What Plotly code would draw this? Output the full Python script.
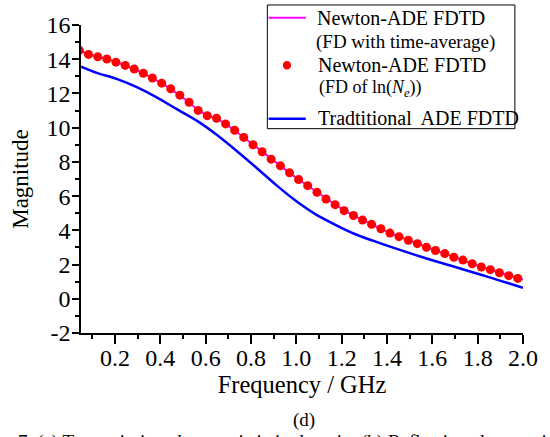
import plotly.graph_objects as go

# ---------------- data ----------------
# Newton-ADE FDTD (FD of ln(Ne)) : red dots
dot_freq = [0.043, 0.083, 0.124, 0.164, 0.204, 0.245, 0.285, 0.325, 0.365, 0.406,
            0.446, 0.486, 0.527, 0.567, 0.607, 0.648, 0.688, 0.728, 0.768, 0.809,
            0.849, 0.889, 0.930, 0.970, 1.010, 1.050, 1.091, 1.131, 1.171, 1.211,
            1.252, 1.292, 1.332, 1.373, 1.413, 1.453, 1.494, 1.534, 1.574, 1.614,
            1.655, 1.695, 1.735, 1.776, 1.816, 1.856, 1.896, 1.937, 1.977]
dot_mag = [14.52, 14.28, 14.14, 14.01, 13.83, 13.64, 13.43, 13.18, 12.90, 12.60,
           12.27, 11.90, 11.48, 11.01, 10.70, 10.55, 10.22, 9.85, 9.43, 9.00,
           8.59, 8.16, 7.77, 7.36, 6.97, 6.61, 6.22, 5.83, 5.50, 5.15,
           4.87, 4.60, 4.35, 4.09, 3.84, 3.63, 3.42, 3.22, 3.01, 2.82,
           2.64, 2.43, 2.26, 2.05, 1.86, 1.70, 1.52, 1.35, 1.19]

# Newton-ADE FDTD (FD with time-average) : magenta line
avg_freq = dot_freq + [2.0]
avg_mag = dot_mag + [1.12]

# Traditional ADE FDTD : blue line
trad_freq = [0.05, 0.12, 0.21, 0.296, 0.382, 0.469, 0.564, 0.650, 0.737, 0.823,
             0.909, 0.996, 1.082, 1.168, 1.255, 1.341, 1.427, 1.514, 1.60, 1.69,
             1.77, 1.86, 1.94, 2.00]
trad_mag = [13.57, 13.20, 12.84, 12.37, 11.79, 11.11, 10.38, 9.57, 8.64, 7.67,
            6.67, 5.74, 4.96, 4.35, 3.80, 3.38, 2.99, 2.61, 2.25, 1.90,
            1.58, 1.22, 0.89, 0.64]

x_tick_vals = [0.2, 0.4, 0.6, 0.8, 1.0, 1.2, 1.4, 1.6, 1.8, 2.0]
x_tick_text = ["0.2", "0.4", "0.6", "0.8", "1.0", "1.2", "1.4", "1.6", "1.8", "2.0"]
y_tick_vals = [-2, 0, 2, 4, 6, 8, 10, 12, 14, 16]
y_tick_text = ["-2", "0", "2", "4", "6", "8", "10", "12", "14", "16"]

legend_lines = [
    ("Newton-ADE FDTD", 20),
    ("(FD with time-average)", 19),
    ("Newton-ADE FDTD", 20),
    ("(FD of ln(<i>N</i><sub><i>e</i></sub>))", 18),
    ("Tradtitional\u00a0 ADE FDTD", 20),
]
caption = "(d)"
caption_below = "7. (a) Transmission characteristic in domain. (b) Reflection characteristic in the domain"

FONT = "Liberation Serif, Times New Roman, serif"
MAGENTA, RED, BLUE = "#FF00FF", "#FF0000", "#0000FF"

# ---------------- layout geometry (pixels) ----------------
W, H = 550, 437
L, R = 81, 533.3          # plot area left / right
T, B = 22.2, 332.7        # plot area top / bottom
pw, ph = R - L, B - T


def px_x(x):
    return (x - L) / pw


def px_y(y):
    return (B - y) / ph


fig = go.Figure()

fig.add_trace(go.Scatter(
    x=avg_freq, y=avg_mag, mode="lines", name="Newton-ADE FDTD (FD with time-average)",
    line=dict(color=MAGENTA, width=2), showlegend=False,
))
fig.add_trace(go.Scatter(
    x=dot_freq, y=dot_mag, mode="markers", name="Newton-ADE FDTD (FD of ln(Ne))",
    marker=dict(color=RED, size=9, line=dict(width=0)), showlegend=False,
))
fig.add_trace(go.Scatter(
    x=trad_freq, y=trad_mag, mode="lines", name="Tradtitional ADE FDTD",
    line=dict(color=BLUE, width=2.5, shape="spline", smoothing=0.8), showlegend=False,
))

axis_common = dict(
    showgrid=False, zeroline=False, showline=True,
    linecolor="black", linewidth=1.5,
    ticks="outside", tickcolor="black", tickwidth=1.5,
    tickfont=dict(family=FONT, size=24, color="black"),
)

# ----- hand-built legend (box, samples, texts) -----
shapes = [
    dict(type="rect", xref="paper", yref="paper",
         x0=px_x(271.7), x1=px_x(525), y0=px_y(126.7), y1=px_y(2),
         line=dict(color="black", width=1), fillcolor="white", layer="above"),
    dict(type="line", xref="paper", yref="paper",
         x0=px_x(273), x1=px_x(311), y0=px_y(15), y1=px_y(15),
         line=dict(color=MAGENTA, width=2), layer="above"),
    dict(type="circle", xref="paper", yref="paper",
         x0=px_x(287.5), x1=px_x(296), y0=px_y(67), y1=px_y(58.5),
         line=dict(width=0), fillcolor=RED, layer="above"),
    dict(type="line", xref="paper", yref="paper",
         x0=px_x(273), x1=px_x(311), y0=px_y(116.7), y1=px_y(116.7),
         line=dict(color=BLUE, width=2.5), layer="above"),
]
legend_pos = [(320, 15.5), (319, 39), (321.5, 62.5), (323, 86), (321.5, 116)]

annotations = []
for (txt, size), (lx, ly) in zip(legend_lines, legend_pos):
    annotations.append(dict(
        text=txt, xref="paper", yref="paper", x=px_x(lx), y=px_y(ly),
        xanchor="left", yanchor="middle", showarrow=False,
        font=dict(family=FONT, size=size, color="black")))

annotations += [
    dict(text=caption, xref="paper", yref="paper",
         x=px_x(309), y=px_y(420), xanchor="center", yanchor="middle",
         showarrow=False, font=dict(family=FONT, size=19, color="black")),
    dict(text=caption_below, xref="paper", yref="paper",
         x=px_x(14), y=px_y(429), xanchor="left", yanchor="top",
         showarrow=False, font=dict(family=FONT, size=19, color="black")),
]

fig.update_layout(
    width=W, height=H,
    margin=dict(l=L, r=W - R, t=T, b=H - B, pad=0),
    paper_bgcolor="white", plot_bgcolor="white",
    font=dict(family=FONT, color="black"),
    showlegend=False,
    xaxis=dict(
        range=[0.05, 2.0], tickmode="array",
        tickvals=x_tick_vals, ticktext=x_tick_text, ticklen=9,
        ticklabelstandoff=-7,
        minor=dict(ticks="outside", dtick=0.1, tick0=0, ticklen=4,
                   tickwidth=1.5, tickcolor="black"),
        title=dict(text="Frequency / GHz", standoff=0,
                   font=dict(family=FONT, size=24.5, color="black")),
        **axis_common,
    ),
    yaxis=dict(
        range=[-2, 16], tickmode="array",
        tickvals=y_tick_vals, ticktext=y_tick_text, ticklen=7,
        ticklabelstandoff=-3,
        minor=dict(ticks="outside", dtick=1, tick0=0, ticklen=4,
                   tickwidth=1.5, tickcolor="black"),
        title=dict(text="Magnitude", standoff=11,
                   font=dict(family=FONT, size=23, color="black")),
        **axis_common,
    ),
    shapes=shapes,
    annotations=annotations,
)

fig.write_html("out.html")
